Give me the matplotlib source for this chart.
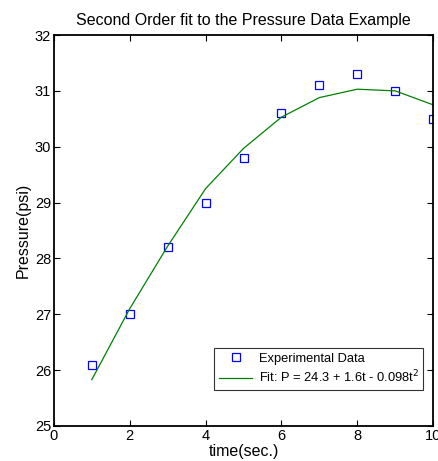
import numpy as np
import matplotlib.pyplot as plt

plt.rcParams['font.family'] = ['Liberation Sans', 'DejaVu Sans']

# measured data
t = [1, 2, 3, 4, 5, 6, 7, 8, 9, 10]
p_data = [26.1, 27.0, 28.2, 29.0, 29.8, 30.6, 31.1, 31.3, 31.0, 30.5]

# fitted curve values
p_fit = [25.83, 27.1, 28.22, 29.25, 29.97, 30.53, 30.88, 31.03, 31.0, 30.75]

fig = plt.figure(figsize=(4.38, 4.61), dpi=100)
ax = fig.add_axes([0.123, 0.076, 0.866, 0.848])

ax.plot(t, p_data, 's', markersize=5.5, markerfacecolor='none',
        markeredgecolor='blue', markeredgewidth=0.9, label='Experimental Data')
ax.plot(t, p_fit, '-', color=(0, 0.5, 0), linewidth=0.9,
        label='Fit: P = 24.3 + 1.6t - 0.098t$^2$')

ax.set_xlim(0, 10)
ax.set_ylim(25, 32)
ax.set_xticks(range(0, 11, 2))
ax.set_yticks(range(25, 33))
ax.tick_params(direction='in', top=True, right=True, labelsize=10.5, length=4,
               width=0.8, pad=2)
for s in ax.spines.values():
    s.set_linewidth(1.3)

ax.set_title('Second Order fit to the Pressure Data Example', fontsize=11.5, pad=7)
ax.set_xlabel('time(sec.)', fontsize=11.5, labelpad=1)
ax.set_ylabel('Pressure(psi)', fontsize=11.5, labelpad=3)

leg = ax.legend(loc='lower right', bbox_to_anchor=(0.974, 0.092), borderaxespad=0,
                fontsize=9.3, frameon=True, fancybox=False, edgecolor='black',
                handlelength=2.6, handletextpad=0.5, borderpad=0.35,
                labelspacing=0.3)
leg.get_frame().set_linewidth(0.8)

fig.savefig('out.png', dpi=100)
